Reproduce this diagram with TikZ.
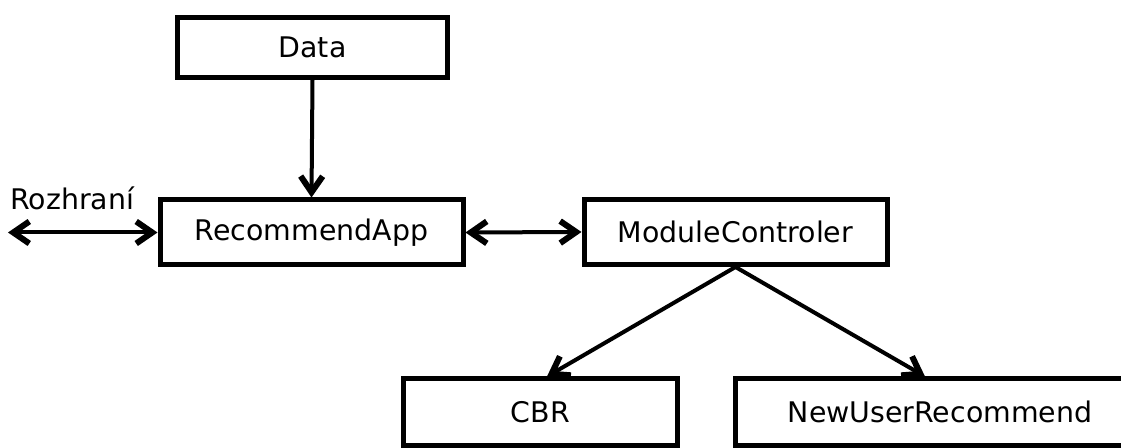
\documentclass[tikz,border=0pt]{standalone}
\usepackage{fontspec}
\setmainfont{DejaVu Sans}
\usetikzlibrary{arrows.meta,calc}
\tikzset{
  barb/.tip={Straight Barb[length=8pt,width=11pt,line width=3pt]}
}
\begin{document}
\begin{tikzpicture}[x=0.5pt,y=-0.5pt,
  box/.style={draw,line width=2.5pt,rectangle,inner sep=0pt,font=\fontsize{14.2pt}{17pt}\selectfont},
  link/.style={line width=2pt,-barb},
  duplex/.style={line width=2pt,barb-barb}]
  \useasboundingbox (0,0) rectangle (1121,448);
  \clip (0,0) rectangle (1121,448);
  % upper row
  \node[box,minimum width=135pt,minimum height=30pt] (data) at (312.5,47.5) {Data};
  \node[box,minimum width=151.5pt,minimum height=32.5pt] (rec) at (311.5,232.5) {RecommendApp};
  \node[box,minimum width=151.5pt,minimum height=32.5pt] (mod) at (735.5,232) {ModuleControler};
  % lower row; the right box runs past the right margin
  \node[box,minimum width=137pt,minimum height=33.25pt] (cbr) at (540.5,412.25) {CBR};
  \node[box,minimum width=204.5pt,minimum height=33.25pt] (nur) at (940,412.25) {NewUserRecommend};
  % interface label and its free end
  \node[anchor=south west,inner sep=0pt,font=\fontsize{14.2pt}{17pt}\selectfont] (roz) at (10,210) {Rozhraní};
  \coordinate (ifc) at (8,232.5);
  % connectors
  \draw[link] (data.south) -- (rec.north);
  \draw[duplex] (ifc) -- (rec.west);
  \draw[duplex] (rec.east) -- (mod.west);
  \draw[link] (mod.south) -- ([xshift=3.25pt]cbr.north);
  \draw[link] (mod.south) -- ([xshift=-7.5pt]nur.north);
\end{tikzpicture}
\end{document}
